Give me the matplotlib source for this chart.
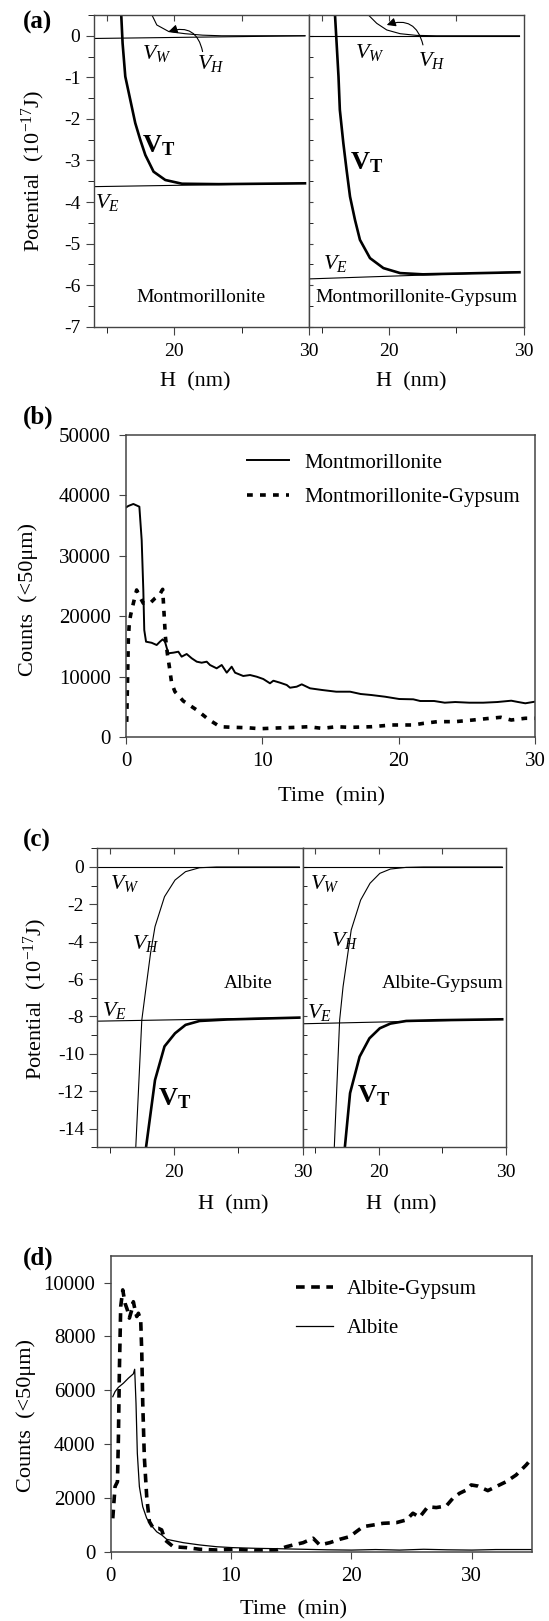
import matplotlib
matplotlib.use('Agg')
import matplotlib.pyplot as plt
from matplotlib.ticker import FixedLocator, MultipleLocator, NullFormatter

plt.rcParams['font.family'] = ['Liberation Serif', 'DejaVu Serif']
plt.rcParams['mathtext.fontset'] = 'custom'
plt.rcParams['mathtext.rm'] = 'Liberation Serif'
plt.rcParams['mathtext.it'] = 'Liberation Serif:italic'
plt.rcParams['mathtext.bf'] = 'Liberation Serif:bold'
plt.rcParams['axes.unicode_minus'] = False

# ---- (a) potentials, montmorillonite ----
a_mont_vt_h = [16.06, 16.16, 16.36, 16.73, 17.1, 17.47, 17.85, 18.46, 19.33, 20.57, 23.3, 29.7]
a_mont_vt = [0.5, -0.18, -0.98, -1.54, -2.1, -2.5, -2.87, -3.27, -3.47, -3.56, -3.57, -3.55]
a_mont_vh_h = [18.34, 18.7, 19.6, 20.8, 22.1, 23.5, 29.7]
a_mont_vh = [0.5, 0.26, 0.1, 0.05, 0.015, 0.0, 0.0]
a_mont_vw = [-0.065, 0.0]
a_mont_ve = [-3.63, -3.55]
# ---- (a) montmorillonite-gypsum ----
a_gyp_vt_h = [15.94, 16.06, 16.2, 16.3, 16.56, 16.8, 17.06, 17.43, 17.8, 18.55, 19.55, 20.8, 22.5, 29.7]
a_gyp_vt = [0.5, -0.18, -0.98, -1.78, -2.58, -3.22, -3.87, -4.43, -4.91, -5.35, -5.59, -5.71, -5.74, -5.69]
a_gyp_vh_h = [18.43, 19.05, 19.8, 20.8, 22.0, 23.5, 29.7]
a_gyp_vh = [0.5, 0.3, 0.14, 0.05, 0.01, 0.0, 0.0]
a_gyp_vw = [0.0, 0.0]
a_gyp_ve = [-5.85, -5.68]
line_h = [14, 29.7]

# ---- (b) counts ----
b_mont_t = [0.0, 0.17, 0.54, 0.98, 1.15, 1.27, 1.34, 1.47, 1.88, 2.25, 2.49, 2.69, 2.86, 3.1, 3.47,
            3.84, 4.08, 4.45, 4.82, 5.19, 5.55, 5.92, 6.16, 6.65, 7.02, 7.39, 7.75, 8.0, 8.6, 9.1,
            9.59, 10.07, 10.56, 10.81, 11.3, 11.79, 12.03, 12.52, 12.89, 13.5, 14.39, 15.42, 16.44,
            17.21, 18.0, 19.0, 20.04, 21.07, 21.58, 22.6, 23.38, 24.15, 25.18, 26.2, 27.23, 28.26,
            28.77, 29.29, 30.0]
b_mont = [38000, 38250, 38580, 38130, 32600, 24340, 17700, 15780, 15600, 15230, 15780, 16170, 15780,
          13860, 13960, 14120, 13300, 13740, 13030, 12470, 12300, 12470, 11920, 11370, 11920, 10650,
          11640, 10650, 10100, 10260, 9980, 9600, 8890, 9320, 8990, 8610, 8160, 8330, 8720, 8060,
          7780, 7500, 7500, 7120, 6950, 6670, 6290, 6240, 5960, 5960, 5680, 5790, 5680, 5680, 5790,
          6010, 5790, 5580, 5850]
b_gyp_t = [0.05, 0.1, 0.17, 0.24, 0.34, 0.54, 0.78, 0.98, 1.27, 1.76, 2.13, 2.45, 2.69, 2.79, 2.89,
           3.03, 3.18, 3.35, 3.59, 4.2, 5.19, 6.04, 6.9, 7.87, 8.86, 9.83, 11.05, 12.52, 13.36,
           14.39, 15.42, 16.44, 18.0, 19.5, 21.07, 21.85, 22.85, 24.15, 25.44, 26.72, 27.49, 28.26,
           29.29, 30.0]
b_gyp = [2500, 7780, 16060, 18820, 20200, 22140, 24340, 23350, 22140, 22140, 22970, 23510, 24450,
         20480, 16610, 13860, 11640, 8890, 7500, 5960, 4470, 2930, 1700, 1600, 1540, 1370, 1490,
         1600, 1700, 1430, 1700, 1600, 1700, 1990, 1990, 2270, 2540, 2540, 2810, 3100, 3260, 2810,
         3100, 3100]

# ---- (c) potentials, albite ----
c_alb_vh_h = [17.0, 17.47, 17.74, 18.15, 18.5, 19.24, 20.06, 20.88, 21.97, 23.3, 29.75]
c_alb_vh = [-15, -8.19, -6.76, -4.62, -3.19, -1.59, -0.70, -0.25, -0.04, 0.0, 0.0]
c_alb_vt_h = [17.8, 18.15, 18.5, 19.24, 20.06, 20.88, 21.97, 24.15, 29.75]
c_alb_vt = [-15, -13.2, -11.4, -9.6, -8.9, -8.45, -8.24, -8.16, -8.06]
c_alb_vw = [0.0, 0.0]
c_alb_ve = [-8.25, -8.06]
# ---- (c) albite-gypsum ----
c_gyp_vh_h = [16.5, 16.92, 17.19, 17.83, 18.57, 19.31, 20.08, 20.91, 22.15, 23.5, 29.7]
c_gyp_vh = [-15, -8.19, -6.4, -3.37, -1.77, -0.87, -0.34, -0.11, -0.02, 0.0, 0.0]
c_gyp_vt_h = [17.33, 17.74, 18.49, 19.26, 20.08, 20.91, 22.15, 24.6, 29.7]
c_gyp_vt = [-15, -12.1, -10.15, -9.17, -8.63, -8.38, -8.24, -8.2, -8.15]
c_gyp_vw = [0.0, 0.0]
c_gyp_ve = [-8.39, -8.15]

# ---- (d) counts ----
d_alb_t = [0.18, 0.37, 0.65, 1.06, 1.48, 1.89, 2.0, 2.11, 2.22, 2.39, 2.67, 3.0, 3.42, 3.83, 4.25,
           4.66, 6.04, 7.42, 8.8, 10.18, 12.12, 14.0, 16.0, 18.0, 20.0, 22.0, 24.0, 26.0, 28.0,
           30.0, 32.0, 35.0]
d_alb = [5760, 5950, 6110, 6260, 6450, 6610, 6780, 5520, 3660, 2420, 1670, 1240, 955, 740, 620, 460,
         335, 250, 185, 150, 125, 110, 90, 70, 60, 80, 60, 90, 70, 60, 80, 80]
d_gyp_t = [0.18, 0.29, 0.37, 0.57, 0.65, 0.73, 0.84, 1.01, 1.2, 1.39, 1.56, 1.76, 1.89, 2.06, 2.17,
           2.31, 2.5, 2.59, 2.67, 2.8, 3.0, 3.22, 3.55, 3.96, 4.24, 4.52, 5.21, 6.32, 7.42, 8.8,
           10.18, 12.12, 13.78, 14.6, 15.16, 15.99, 16.82, 17.37, 18.2, 19.03, 19.86, 20.41, 20.96,
           21.79, 22.62, 23.73, 24.56, 25.11, 25.66, 26.35, 27.05, 27.88, 28.43, 28.98, 29.54,
           29.95, 30.5, 31.33, 32.02, 32.85, 33.68, 34.51, 35.0]
d_gyp = [1240, 1920, 2420, 2600, 4270, 6750, 9110, 9730, 9230, 8990, 8680, 8990, 9290, 8920, 8740,
         8860, 8610, 7380, 5520, 3530, 2040, 1120, 870, 870, 810, 435, 185, 150, 90, 63, 90, 40, 63,
         185, 250, 335, 500, 250, 335, 460, 560, 745, 930, 990, 1055, 1080, 1180, 1430, 1280, 1670,
         1640, 1700, 1985, 2170, 2290, 2480, 2440, 2270, 2420, 2600, 2850, 3220, 3470]

W, H = 549, 1621
fig = plt.figure(figsize=(W / 100, H / 100), dpi=100)
SPINE = '#444444'


def box(x0, y0, x1, y1):
    return [x0 / W, 1 - y1 / H, (x1 - x0) / W, (y1 - y0) / H]


def style(ax, lw=1.0):
    for s in ax.spines.values():
        s.set_color(SPINE)
        s.set_linewidth(lw)
    ax.tick_params(colors=SPINE, labelcolor='black')


def potential_panel(rect, ylim, ymajor, yminor, left):
    ax = fig.add_axes(rect)
    ax.set_xlim(14, 30)
    ax.set_ylim(*ylim)
    style(ax)
    ax.xaxis.set_major_locator(FixedLocator([20, 30]))
    ax.xaxis.set_minor_locator(FixedLocator([15, 25]))
    ax.tick_params(axis='x', which='major', direction='out', length=6, labelsize=14, pad=6)
    ax.tick_params(axis='x', which='minor', direction='out', length=4)
    # small inward ticks along the top edge
    top = ax.secondary_xaxis('top')
    top.set_xticks([15, 20, 25])
    top.tick_params(direction='in', length=4, labeltop=False, colors=SPINE)
    top.spines['top'].set_visible(False)
    ax.yaxis.set_major_locator(MultipleLocator(ymajor))
    ax.yaxis.set_minor_locator(MultipleLocator(yminor))
    if left:
        ax.tick_params(axis='y', which='major', direction='out', length=6, labelsize=14)
        ax.tick_params(axis='y', which='minor', direction='out', length=4)
    else:
        ax.tick_params(axis='y', which='both', direction='in', length=3)
        ax.yaxis.set_major_formatter(NullFormatter())
    return ax


def put_v(ax, x, y, sub, bold=False):
    if bold:
        ax.text(x, y, r'$\mathbf{V}_\mathbf{%s}$' % sub, fontsize=19, ha='left', va='top')
    else:
        ax.text(x, y, r'$V_{%s}$' % sub, fontsize=16, ha='left', va='top')


def arrow(ax, tip, start):
    ax.annotate('', xy=tip, xytext=start,
                arrowprops=dict(arrowstyle='-|>', connectionstyle='arc3,rad=0.55', lw=0.8,
                                color='black', mutation_scale=13, shrinkA=0, shrinkB=0))


# ---------------- (a) ----------------
ax = potential_panel(box(93.5, 15, 309, 326.7), (-7, 0.5), 1, 0.5, True)
ax.plot(line_h, a_mont_vw, color='black', lw=0.8)
ax.plot(line_h, a_mont_ve, color='black', lw=0.8)
ax.plot(a_mont_vh_h, a_mont_vh, color='black', lw=0.8)
ax.plot(a_mont_vt_h, a_mont_vt, color='black', lw=1.9)
put_v(ax, 17.6, -0.18, 'W')
put_v(ax, 21.7, -0.42, 'H')
put_v(ax, 17.6, -2.34, 'T', bold=True)
put_v(ax, 14.1, -3.77, 'E')
arrow(ax, (19.57, 0.1), (22.1, -0.38))
ax.text(22.0, -6.3, 'Montmorillonite', fontsize=14, ha='center', va='center')

ax = potential_panel(box(309, 15, 523.5, 326.7), (-7, 0.5), 1, 0.5, False)
ax.plot(line_h, a_gyp_vw, color='black', lw=0.8)
ax.plot(line_h, a_gyp_ve, color='black', lw=0.8)
ax.plot(a_gyp_vh_h, a_gyp_vh, color='black', lw=0.8)
ax.plot(a_gyp_vt_h, a_gyp_vt, color='black', lw=1.9)
put_v(ax, 17.43, -0.14, 'W')
put_v(ax, 22.15, -0.34, 'H')
put_v(ax, 17.06, -2.75, 'T', bold=True)
put_v(ax, 15.07, -5.23, 'E')
arrow(ax, (19.8, 0.26), (22.5, -0.22))
ax.text(22.04, -6.3, 'Montmorillonite-Gypsum', fontsize=14, ha='center', va='center')

fig.text(33 / W, 1 - 171 / H, r'Potential  (10$^{-17}$J)', fontsize=16, rotation=90,
         ha='center', va='center')
fig.text(195 / W, 1 - 382 / H, 'H  (nm)', fontsize=16, ha='center', va='center')
fig.text(411 / W, 1 - 382 / H, 'H  (nm)', fontsize=16, ha='center', va='center')
fig.text(23 / W, 1 - 22 / H, '(a)', fontsize=18, fontweight='bold', ha='left', va='center')

# ---------------- (b) ----------------
ax = fig.add_axes(box(126, 435, 535, 737))
style(ax, 1.1)
ax.plot(b_mont_t, b_mont, color='black', lw=1.4, label='Montmorillonite')
ax.plot(b_gyp_t, b_gyp, color='black', lw=2.6, dashes=(1.6, 2.0), label='Montmorillonite-Gypsum')
ax.set_xlim(0, 30)
ax.set_ylim(0, 50000)
ax.xaxis.set_major_locator(MultipleLocator(10))
ax.yaxis.set_major_locator(MultipleLocator(10000))
ax.tick_params(direction='out', length=5, labelsize=15, pad=6)
ax.legend(loc='upper left', bbox_to_anchor=(0.296, 0.94), frameon=False, fontsize=15,
          borderpad=0, borderaxespad=0, handlelength=2.0, handletextpad=0.75,
          labelspacing=0.7)
fig.text(28 / W, 1 - 600 / H, 'Counts  (<50μm)', fontsize=16, rotation=90,
         ha='center', va='center')
fig.text(331 / W, 1 - 797 / H, 'Time  (min)', fontsize=16, ha='center', va='center')
fig.text(23 / W, 1 - 417 / H, '(b)', fontsize=18, fontweight='bold', ha='left', va='center')

# ---------------- (c) ----------------
ax = potential_panel(box(97.3, 848.3, 302.5, 1147.3), (-15, 1), 2, 1, True)
ax.plot(line_h, c_alb_vw, color='black', lw=0.8)
ax.plot(line_h, c_alb_ve, color='black', lw=0.8)
ax.plot(c_alb_vh_h, c_alb_vh, color='black', lw=0.8)
ax.plot(c_alb_vt_h, c_alb_vt, color='black', lw=1.9)
put_v(ax, 15.0, -0.34, 'W')
put_v(ax, 16.73, -3.55, 'H')
put_v(ax, 14.4, -7.1, 'E')
put_v(ax, 18.7, -11.75, 'T', bold=True)
ax.text(25.8, -6.22, 'Albite', fontsize=14, ha='center', va='center')

ax = potential_panel(box(302.5, 848.3, 506, 1147.3), (-15, 1), 2, 1, False)
ax.plot(line_h, c_gyp_vw, color='black', lw=0.8)
ax.plot(line_h, c_gyp_ve, color='black', lw=0.8)
ax.plot(c_gyp_vh_h, c_gyp_vh, color='black', lw=0.8)
ax.plot(c_gyp_vt_h, c_gyp_vt, color='black', lw=1.9)
put_v(ax, 14.58, -0.34, 'W')
put_v(ax, 16.23, -3.37, 'H')
put_v(ax, 14.39, -7.2, 'E')
put_v(ax, 18.3, -11.6, 'T', bold=True)
ax.text(25.04, -6.22, 'Albite-Gypsum', fontsize=14, ha='center', va='center')

fig.text(35 / W, 1 - 999 / H, r'Potential  (10$^{-17}$J)', fontsize=16, rotation=90,
         ha='center', va='center')
fig.text(233 / W, 1 - 1205 / H, 'H  (nm)', fontsize=16, ha='center', va='center')
fig.text(401 / W, 1 - 1205 / H, 'H  (nm)', fontsize=16, ha='center', va='center')
fig.text(23 / W, 1 - 840 / H, '(c)', fontsize=18, fontweight='bold', ha='left', va='center')

# ---------------- (d) ----------------
ax = fig.add_axes(box(110.6, 1255.7, 532, 1551.7))
style(ax, 1.1)
ax.plot(d_gyp_t, d_gyp, color='black', lw=2.6, dashes=(2.4, 1.8), label='Albite-Gypsum')
ax.plot(d_alb_t, d_alb, color='black', lw=0.9, label='Albite')
ax.set_xlim(0, 35)
ax.set_ylim(0, 11000)
ax.xaxis.set_major_locator(MultipleLocator(10))
ax.yaxis.set_major_locator(MultipleLocator(2000))
ax.tick_params(direction='out', length=5, labelsize=15, pad=6)
ax.legend(loc='upper left', bbox_to_anchor=(0.44, 0.92), frameon=False, fontsize=15,
          borderpad=0, borderaxespad=0, handlelength=1.76, handletextpad=0.67,
          labelspacing=0.95)
fig.text(26 / W, 1 - 1415 / H, 'Counts  (<50μm)', fontsize=16, rotation=90,
         ha='center', va='center')
fig.text(293 / W, 1 - 1610 / H, 'Time  (min)', fontsize=16, ha='center', va='center')
fig.text(23 / W, 1 - 1258 / H, '(d)', fontsize=18, fontweight='bold', ha='left', va='center')

fig.savefig('out.png', dpi=100)
